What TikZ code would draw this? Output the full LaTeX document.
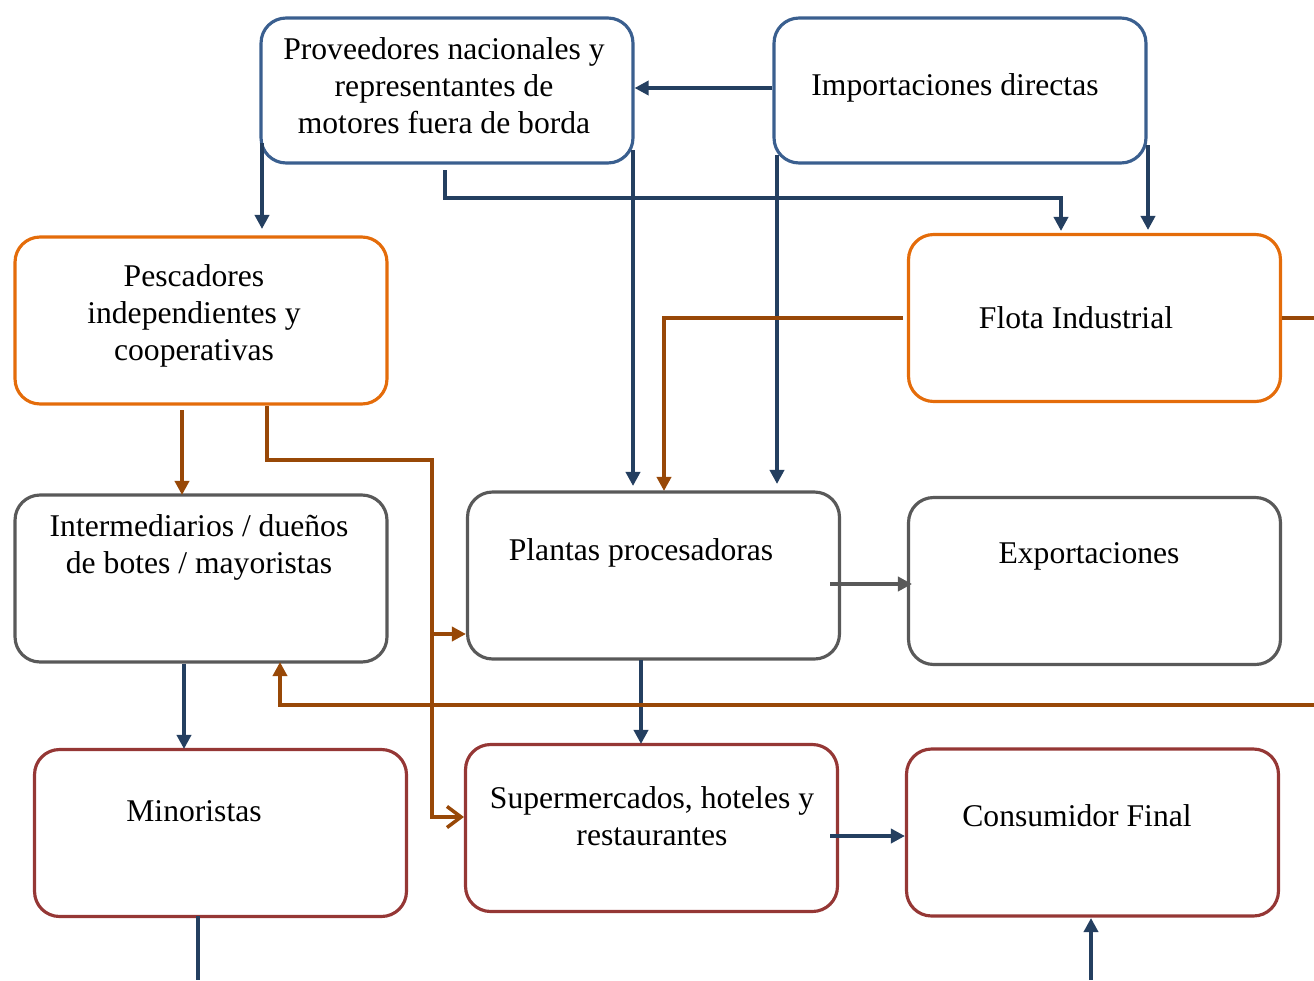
\documentclass[tikz,border=0pt]{standalone}
\usepackage{fontspec}
\setmainfont{Liberation Serif}
\usetikzlibrary{arrows.meta,calc}
\definecolor{bluebd}{HTML}{3A5F8F}
\definecolor{navy}{HTML}{243F60}
\definecolor{orng}{HTML}{E46C0A}
\definecolor{brn}{HTML}{984807}
\definecolor{gry}{HTML}{595959}
\definecolor{dred}{HTML}{953735}
\begin{document}
\begin{tikzpicture}[x=0.02cm,y=-0.02cm,
  box/.style={draw,line width=1.8pt,rounded corners=0.5cm,inner sep=0pt,minimum width=7.44cm},
  tall/.style={minimum height=3.34cm},
  short/.style={minimum height=2.9cm},
  txt/.style={font=\fontsize{18}{21}\selectfont,align=center,inner sep=0pt},
  ln/.style={line width=2pt},
  con/.style={ln,-{Triangle[length=8pt,width=8pt]}},
  nav/.style={con,draw=navy},
  brw/.style={con,draw=brn},
  gra/.style={con,draw=gry}]
\useasboundingbox (0,0) rectangle (1314,980);
% boxes
\node[box,short,draw=bluebd] (prov) at (447,90.5) {};
\node[box,short,draw=bluebd] (imp) at (960,90.5) {};
\node[box,tall,draw=orng] (pesc) at (201,320.5) {};
\node[box,tall,draw=orng] (flota) at (1094.5,318) {};
\node[box,tall,draw=gry] (inter) at (201,578.5) {};
\node[box,tall,draw=gry] (plan) at (653.5,575.5) {};
\node[box,tall,draw=gry] (expo) at (1094.5,581) {};
\node[box,tall,draw=dred] (mino) at (220.5,833) {};
\node[box,tall,draw=dred] (super) at (651.5,828) {};
\node[box,tall,draw=dred] (cons) at (1092.5,832.5) {};
% texts
\node[txt] (tprov) at (444,86) {Proveedores nacionales y\\representantes de\\motores fuera de borda};
\node[txt] (timp) at (955,88) {Importaciones directas};
\node[txt] (tpesc) at (194,316) {Pescadores\\independientes y\\cooperativas};
\node[txt] (tflota) at (1076,318) {Flota Industrial};
\node[txt] (tinter) at (199,547) {Intermediarios / due\~nos\\de botes / mayoristas};
\node[txt] (tplan) at (641,553) {Plantas procesadoras};
\node[txt] (texpo) at (1089,556) {Exportaciones};
\node[txt] (tmino) at (194,811) {Minoristas};
\node[txt] (tsuper) at (652,816) {Supermercados, hoteles y\\restaurantes};
\node[txt] (tcons) at (1077,816) {Consumidor Final};
% coordinates off the picture edge
\coordinate (eR1) at (1314,318);
\coordinate (eR2) at (1314,705);
\coordinate (eB1) at (198,980);
\coordinate (eB2) at (1091,980);
% navy connectors
\draw[nav] (imp.west |- 0,88) -- (prov.east |- 0,88);
\draw[nav] (262,143) -- (262,229);
\draw[nav] (445,170) |- (1061,198) -- (1061,231);
\draw[nav] (1148,145) -- (1148,230);
\draw[nav] (633,150) -- (633,486);
\draw[nav] (777,155) -- (777,484);
\draw[nav] (184,664) -- (184,749);
\draw[nav] (641,660) -- (641,744);
\draw[nav] (830,836) -- (cons.west |- 0,836);
\draw[ln,draw=navy] (198,916) -- (eB1);
\draw[nav] (eB2) -- (1091,918);
% brown connectors
\draw[brw] (903,318) -| (664,491);
\draw[ln,draw=brn] (flota.east |- eR1) -- (eR1);
\draw[brw] (182,410) -- (182,495);
\draw[ln,draw=brn,-{Straight Barb[length=8pt,width=12pt]}] (267,406) |- (432,460) -- (432,817) -- (super.west |- 0,817);
\draw[brw] (432,634) -- (plan.west |- 0,634);
\draw[brw] (eR2) -| (280,662);
% gray connector
\draw[gra] (830,584) -- (912,584);
\end{tikzpicture}
\end{document}
